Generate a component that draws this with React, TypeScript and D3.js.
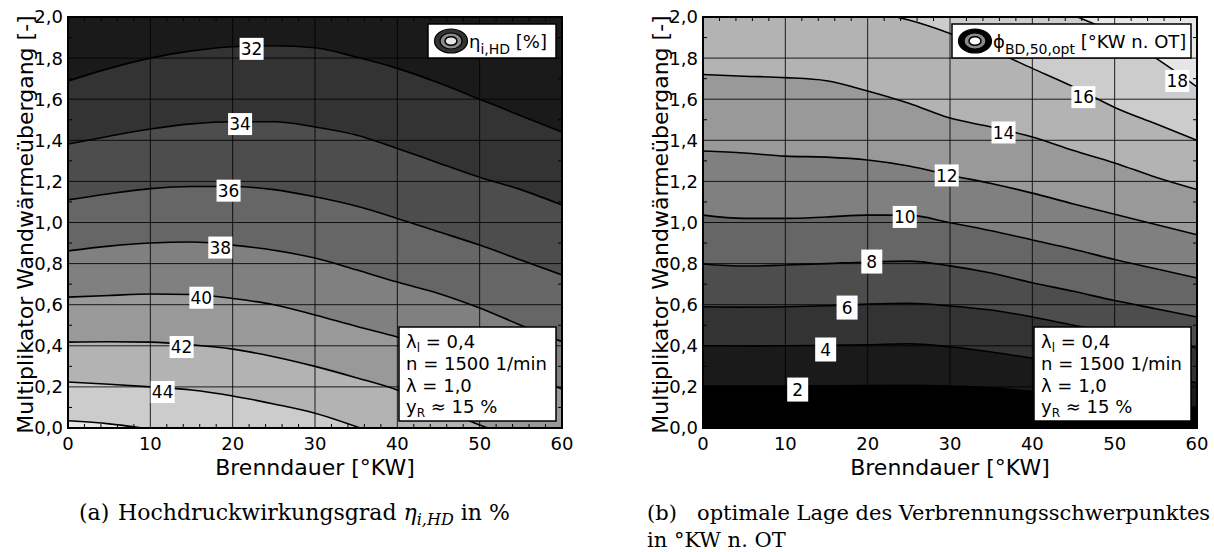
import React from 'react';
import * as d3 from 'd3';

type Pt = [number, number];

// ---------- shared axes ----------
const xTicks = [0, 10, 20, 30, 40, 50, 60];
const xTickLabels = ['0', '10', '20', '30', '40', '50', '60'];
const yTicks = [0, 0.2, 0.4, 0.6, 0.8, 1.0, 1.2, 1.4, 1.6, 1.8, 2.0];
const yTickLabels = ['0,0', '0,2', '0,4', '0,6', '0,8', '1,0', '1,2', '1,4', '1,6', '1,8', '2,0'];
const xMinor = [2, 4, 6, 8, 12, 14, 16, 18, 22, 24, 26, 28, 32, 34, 36, 38, 42, 44, 46, 48, 52, 54, 56, 58];
const yMinor = [0.1, 0.3, 0.5, 0.7, 0.9, 1.1, 1.3, 1.5, 1.7, 1.9];
const xTitle = 'Brenndauer [°KW]';
const yTitle = 'Multiplikator Wandwärmeübergang [-]';
const infoLines = ['λ', 'n = 1500 1/min', 'λ = 1,0', 'y'];

// ---------- panel (a): eta_i,HD [%] ----------
const etaLevels = [32, 34, 36, 38, 40, 42, 44, 46];
const eta32: Pt[] = [[0, 1.689], [5, 1.75], [10, 1.8], [15, 1.835], [20, 1.855], [25, 1.86], [30, 1.85], [35, 1.805], [40, 1.75], [45, 1.68], [50, 1.6], [55, 1.52], [60, 1.44]];
const eta34: Pt[] = [[0, 1.382], [5, 1.42], [10, 1.455], [15, 1.48], [20, 1.49], [25, 1.49], [30, 1.465], [35, 1.426], [40, 1.36], [45, 1.29], [50, 1.22], [55, 1.16], [60, 1.085]];
const eta36: Pt[] = [[0, 1.11], [5, 1.14], [10, 1.165], [15, 1.175], [20, 1.175], [25, 1.16], [30, 1.125], [35, 1.08], [40, 1.02], [45, 0.955], [50, 0.89], [55, 0.817], [60, 0.745]];
const eta38: Pt[] = [[0, 0.862], [5, 0.885], [10, 0.9], [15, 0.905], [20, 0.89], [25, 0.865], [30, 0.827], [35, 0.77], [40, 0.71], [45, 0.655], [50, 0.584], [55, 0.5], [60, 0.42]];
const eta40: Pt[] = [[0, 0.637], [5, 0.645], [10, 0.652], [15, 0.65], [20, 0.63], [25, 0.6], [30, 0.55], [35, 0.495], [40, 0.443], [45, 0.385], [50, 0.325], [55, 0.26], [60, 0.19]];
const eta42: Pt[] = [[0, 0.418], [5, 0.42], [10, 0.418], [15, 0.405], [20, 0.384], [25, 0.347], [30, 0.3], [35, 0.245], [40, 0.185], [45, 0.1], [50, 0.015], [51, 0]];
const eta44: Pt[] = [[0, 0.224], [5, 0.213], [10, 0.2], [15, 0.185], [20, 0.156], [25, 0.117], [30, 0.072], [35.5, 0]];
const eta46: Pt[] = [[0, 0.035], [5, 0.02], [9, 0]];
const etaLines = [eta32, eta34, eta36, eta38, eta40, eta42, eta44, eta46];
const etaLabelPos: Pt[] = [[22.3, 1.845], [20.9, 1.479], [19.5, 1.155], [18.5, 0.878], [16.2, 0.634], [13.8, 0.394], [11.5, 0.175], [NaN, NaN]];
const etaBandColors = ['#1a1a1a', '#333333', '#4d4d4d', '#666666', '#808080', '#999999', '#b3b3b3', '#cccccc', '#e6e6e6'];

// ---------- panel (b): phi_BD,50,opt [°KW n. OT] ----------
const phiLevels = [2, 4, 6, 8, 10, 12, 14, 16, 18];
const phi2: Pt[] = [[0, 0.204], [5, 0.204], [10, 0.204], [15, 0.205], [20, 0.207], [25, 0.208], [30, 0.204], [35, 0.196], [40, 0.178], [45, 0.16], [50, 0.14], [55, 0.12], [60, 0.1]];
const phi4: Pt[] = [[0, 0.4], [5, 0.399], [10, 0.4], [15, 0.402], [20, 0.405], [25, 0.41], [30, 0.395], [35, 0.37], [40, 0.34], [45, 0.31], [50, 0.28], [55, 0.25], [60, 0.22]];
const phi6: Pt[] = [[0, 0.59], [5, 0.588], [10, 0.59], [15, 0.595], [20, 0.603], [25, 0.607], [30, 0.594], [35, 0.574], [40, 0.54], [45, 0.5], [50, 0.465], [55, 0.43], [60, 0.39]];
const phi8: Pt[] = [[0, 0.798], [5, 0.788], [10, 0.793], [15, 0.8], [20, 0.808], [25, 0.812], [30, 0.789], [35, 0.754], [40, 0.707], [45, 0.665], [50, 0.62], [55, 0.58], [60, 0.54]];
const phi10: Pt[] = [[0, 1.036], [5, 1.02], [10, 1.02], [15, 1.027], [20, 1.036], [25, 1.036], [30, 0.999], [35, 0.96], [40, 0.915], [45, 0.87], [50, 0.82], [55, 0.775], [60, 0.73]];
const phi12: Pt[] = [[0, 1.348], [5, 1.338], [10, 1.323], [15, 1.318], [20, 1.304], [25, 1.275], [30, 1.23], [35, 1.19], [40, 1.143], [45, 1.09], [50, 1.04], [55, 0.99], [60, 0.94]];
const phi14: Pt[] = [[0, 1.72], [5, 1.712], [10, 1.705], [15, 1.69], [20, 1.64], [25, 1.58], [30, 1.508], [35, 1.465], [40, 1.416], [45, 1.35], [50, 1.29], [55, 1.22], [60, 1.16]];
const phi16: Pt[] = [[23.5, 2.0], [25, 1.985], [30, 1.92], [35, 1.84], [40, 1.75], [45, 1.66], [50, 1.56], [55, 1.48], [60, 1.4]];
const phi18: Pt[] = [[45.5, 2.0], [50, 1.92], [55, 1.8], [60, 1.66]];
const phiLines = [phi2, phi4, phi6, phi8, phi10, phi12, phi14, phi16, phi18];
const phiLabelPos: Pt[] = [[11.5, 0.187], [14.9, 0.382], [17.5, 0.586], [20.5, 0.81], [24.5, 1.027], [29.6, 1.229], [36.5, 1.438], [46.2, 1.61], [57.6, 1.689]];
const phiBandColors = ['#000000', '#1a1a1a', '#333333', '#4d4d4d', '#666666', '#808080', '#999999', '#b3b3b3', '#cccccc', '#e6e6e6'];

const SANS = 'DejaVu Sans, Verdana, sans-serif';
const SERIF = 'DejaVu Serif, serif';

type PanelProps = {
  id: string;
  left: number;
  levels: number[];
  lines: Pt[][];
  labelPos: Pt[];
  colors: string[];
  increasingUp: boolean;
  legend: 'eta' | 'phi';
};

function Panel({ id, left, levels, lines, labelPos, colors, increasingUp, legend }: PanelProps) {
  const top = 17;
  const bottom = 428;
  const right = left + 494;
  const x = d3.scaleLinear().domain([0, 60]).range([left, right]);
  const y = d3.scaleLinear().domain([0, 2]).range([bottom, top]);

  const area = d3
    .area<Pt>()
    .x((d) => x(d[0]))
    .y0(increasingUp ? y(2) : y(0))
    .y1((d) => y(d[1]))
    .curve(d3.curveMonotoneX);
  const line = d3
    .line<Pt>()
    .x((d) => x(d[0]))
    .y((d) => y(d[1]))
    .curve(d3.curveMonotoneX);

  const clipId = `clip-${id}`;
  const legW = legend === 'eta' ? 128 : 239;
  const legX = right - 6 - legW;
  const legY = top + 7;
  const boxW = 157;
  const boxH = 94;
  const boxX = right - 6 - boxW;
  const boxY = bottom - 7 - boxH;
  const midX = (left + right) / 2;

  return (
    <g>
      <defs>
        <clipPath id={clipId}>
          <rect x={left} y={top} width={right - left} height={bottom - top} />
        </clipPath>
      </defs>
      <g clipPath={`url(#${clipId})`}>
        <rect x={left} y={top} width={right - left} height={bottom - top} fill={colors[0]} />
        {lines.map((ln, i) => (
          <path key={`a${i}`} d={area(ln) || ''} fill={colors[i + 1]} />
        ))}
        {xTicks.slice(1, -1).map((t) => (
          <line key={`gx${t}`} x1={x(t)} x2={x(t)} y1={top} y2={bottom} stroke="#000" strokeWidth={1} strokeOpacity={0.85} />
        ))}
        {yTicks.slice(1, -1).map((t) => (
          <line key={`gy${t}`} x1={left} x2={right} y1={y(t)} y2={y(t)} stroke="#000" strokeWidth={1} strokeOpacity={0.85} />
        ))}
        {lines.map((ln, i) => (
          <path key={`l${i}`} d={line(ln) || ''} fill="none" stroke="#000" strokeWidth={1.6} />
        ))}
        {xMinor.map((t) => (
          <g key={`mx${t}`}>
            <line x1={x(t)} x2={x(t)} y1={bottom} y2={bottom - 4} stroke="#000" strokeWidth={1} />
            <line x1={x(t)} x2={x(t)} y1={top} y2={top + 4} stroke="#000" strokeWidth={1} />
          </g>
        ))}
        {yMinor.map((t) => (
          <g key={`my${t}`}>
            <line x1={left} x2={left + 4} y1={y(t)} y2={y(t)} stroke="#000" strokeWidth={1} />
            <line x1={right} x2={right - 4} y1={y(t)} y2={y(t)} stroke="#000" strokeWidth={1} />
          </g>
        ))}
        {levels.map((lv, i) => {
          const p = labelPos[i];
          if (!p || isNaN(p[0])) return null;
          const txt = String(lv);
          const w = txt.length === 1 ? 21 : 24;
          const h = txt.length === 1 ? 24 : 22;
          return (
            <g key={`lb${lv}`}>
              <rect x={x(p[0]) - w / 2} y={y(p[1]) - h / 2} width={w} height={h} fill="#fff" />
              <text x={x(p[0])} y={y(p[1])} dy="0.36em" textAnchor="middle" fontFamily={SANS} fontSize={17} fill="#000">
                {txt}
              </text>
            </g>
          );
        })}
      </g>
      <rect x={left} y={top} width={right - left} height={bottom - top} fill="none" stroke="#000" strokeWidth={2} />

      {/* legend */}
      <rect x={legX} y={legY} width={legW} height={34} fill="#fff" stroke="#000" strokeWidth={1.5} />
      {(() => {
        const cx = legX + 23;
        const cy = legY + 17;
        return (
          <g>
            <ellipse cx={cx} cy={cy} rx={16.5} ry={12} fill={legend === 'eta' ? '#333' : '#000'} stroke="#000" strokeWidth={1.2} />
            <ellipse cx={cx} cy={cy} rx={11} ry={8} fill="#8a8a8a" stroke="#000" strokeWidth={1.2} />
            <ellipse cx={cx} cy={cy} rx={6} ry={4.3} fill={legend === 'eta' ? '#e6e6e6' : '#fff'} stroke="#000" strokeWidth={1.5} />
          </g>
        );
      })()}
      {legend === 'eta' ? (
        <text x={legX + 41} y={legY + 24} fontFamily={SANS} fontSize={18} fill="#000">
          η<tspan fontSize={14} dy={6}>i,HD</tspan>
          <tspan dy={-6}> [%]</tspan>
        </text>
      ) : (
        <text x={legX + 41} y={legY + 24} fontFamily={SANS} fontSize={18} fill="#000">
          {'\u03D5'}
          <tspan fontSize={14} dy={6}>BD,50,opt</tspan>
          <tspan dy={-6}> [°KW n. OT]</tspan>
        </text>
      )}

      {/* info box */}
      <rect x={boxX} y={boxY} width={boxW} height={boxH} fill="#fff" stroke="#000" strokeWidth={1.5} />
      <g fontFamily={SANS} fontSize={18} fill="#000">
        <text x={boxX + 7} y={boxY + 21}>
          {infoLines[0]}
          <tspan fontSize={12} dy={4}>l</tspan>
          <tspan dy={-4}> = 0,4</tspan>
        </text>
        <text x={boxX + 7} y={boxY + 43}>{infoLines[1]}</text>
        <text x={boxX + 7} y={boxY + 65}>{infoLines[2]}</text>
        <text x={boxX + 7} y={boxY + 86}>
          {infoLines[3]}
          <tspan fontSize={12} dy={4}>R</tspan>
          <tspan dy={-4}> ≈ 15 %</tspan>
        </text>
      </g>

      {/* axes */}
      {yTicks.map((t, i) => (
        <text key={`yt${t}`} x={left - 5} y={y(t)} dy="0.36em" textAnchor="end" fontFamily={SANS} fontSize={18} fill="#000">
          {yTickLabels[i]}
        </text>
      ))}
      {xTicks.map((t, i) => (
        <text key={`xt${t}`} x={x(t)} y={450} textAnchor="middle" fontFamily={SANS} fontSize={18} fill="#000">
          {xTickLabels[i]}
        </text>
      ))}
      <text x={midX} y={475} textAnchor="middle" fontFamily={SANS} fontSize={22} fill="#000">
        {xTitle}
      </text>
      <text transform={`translate(${left - 35},${(top + bottom) / 2 + 2}) rotate(-90)`} textAnchor="middle" fontFamily={SANS} fontSize={22} fill="#000">
        {yTitle}
      </text>
    </g>
  );
}

export default function App() {
  return (
    <svg width={1214} height={552} style={{ position: 'absolute', left: 0, top: 0, background: '#fff' }}>
      <rect x={0} y={0} width={1214} height={552} fill="#fff" />
      <Panel id="a" left={68} levels={etaLevels} lines={etaLines} labelPos={etaLabelPos} colors={etaBandColors} increasingUp={false} legend="eta" />
      <Panel id="b" left={703} levels={phiLevels} lines={phiLines} labelPos={phiLabelPos} colors={phiBandColors} increasingUp={true} legend="phi" />

      <text x={79} y={520} fontFamily={SERIF} fontSize={22} fill="#000">
        (a)<tspan x={118}>Hochdruckwirkungsgrad </tspan>
        <tspan fontStyle="italic">η</tspan>
        <tspan fontStyle="italic" fontSize={16} dy={5}>i,HD</tspan>
        <tspan dy={-5}> in %</tspan>
      </text>
      <text x={647} y={520} fontFamily={SERIF} fontSize={21} fill="#000">
        (b)
      </text>
      <text x={697} y={520} fontFamily={SERIF} fontSize={21} fill="#000">
        optimale Lage des Verbrennungsschwerpunktes
      </text>
      <text x={647} y={547} fontFamily={SERIF} fontSize={21} fill="#000">
        in °KW n. OT
      </text>
    </svg>
  );
}
